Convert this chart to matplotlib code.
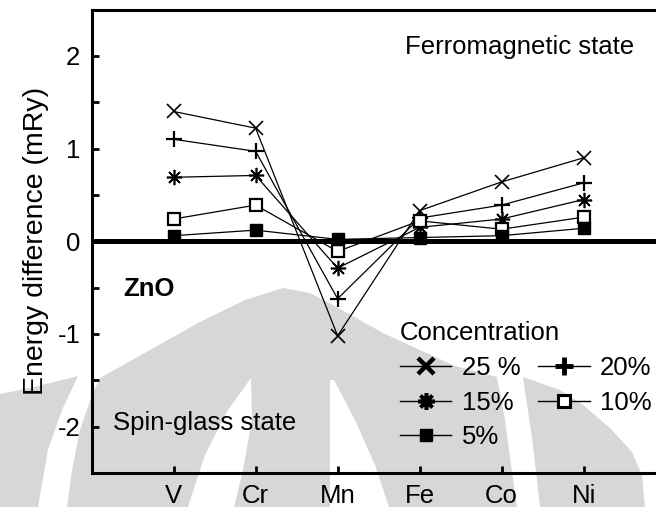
import matplotlib
matplotlib.use("Agg")
import matplotlib.pyplot as plt
from matplotlib.patches import Polygon
from matplotlib.lines import Line2D

plt.rcParams['font.family'] = ['Liberation Sans', 'DejaVu Sans']
plt.rcParams['axes.unicode_minus'] = False

# Dopant elements along the x axis
elements = ["V", "Cr", "Mn", "Fe", "Co", "Ni"]
positions = [1, 2, 3, 4, 5, 6]

# Energy difference (mRy) for each impurity concentration
conc_25 = [1.40, 1.22, -1.02, 0.33, 0.64, 0.90]
conc_20 = [1.10, 0.97, -0.62, 0.25, 0.39, 0.63]
conc_15 = [0.69, 0.71, -0.29, 0.15, 0.24, 0.45]
conc_10 = [0.24, 0.39, -0.11, 0.22, 0.13, 0.26]
conc_5 = [0.06, 0.12, 0.02, 0.04, 0.06, 0.14]

labels = ["25 %", "20%", "15%", "10%", "5%"]
y_ticks = [-2, -1, 0, 1, 2]

W, H = 656, 507
fig = plt.figure(figsize=(W / 100, H / 100), dpi=100)


def px(points):
    return [(x / W, 1 - y / H) for x, y in points]


# faint background emblem
grey = '#d7d7d7'
emblem_grey = [
    [(67, 507), (72, 470), (80, 430), (92, 395), (100, 378), (150, 350), (200, 322),
     (245, 300), (283, 288), (310, 293), (333, 305), (383, 333), (420, 350),
     (455, 366), (497, 377), (505, 420), (511, 465), (517, 507)],
    [(0, 507), (0, 394), (30, 388), (78, 376), (62, 410), (48, 450), (38, 507)],
    [(523, 377), (560, 390), (583, 405), (610, 428), (632, 452), (642, 475),
     (645, 507), (540, 507), (533, 445)],
]
emblem_white = [
    [(188, 507), (205, 455), (228, 410), (251, 378), (252, 420), (243, 470), (234, 507)],
    [(330, 380), (334, 380), (355, 420), (375, 465), (389, 507), (330, 507)],
]
for pts in emblem_grey:
    fig.patches.append(Polygon(px(pts), closed=True, transform=fig.transFigure,
                               facecolor=grey, edgecolor='none', zorder=-2))
for pts in emblem_white:
    fig.patches.append(Polygon(px(pts), closed=True, transform=fig.transFigure,
                               facecolor='white', edgecolor='none', zorder=-1))

ax = fig.add_axes([91.6 / W, 1 - 473 / H, 574 / W, 463.5 / H])
ax.set_facecolor('none')

ast = (8, 2, 0)
styles = [
    (conc_25, dict(marker='x', ms=10, mew=1.2, mfc='none')),
    (conc_20, dict(marker='+', ms=11, mew=1.6, mfc='none')),
    (conc_15, dict(marker=ast, ms=11, mew=1.2, mfc='none')),
    (conc_10, dict(marker='s', ms=8, mew=1.6, mfc='white')),
    (conc_5, dict(marker='s', ms=8, mew=1.0, mfc='black')),
]
for vals, st in styles:
    ax.plot(positions, vals, color='black', lw=0.9, mec='black', zorder=3, **st)

ax.axhline(0, color='black', lw=3.6, zorder=2)

ax.set_xlim(0, 7)
ax.set_ylim(-2.5, 2.5)
ax.set_xticks(positions)
ax.set_xticklabels(elements)
ax.set_yticks(y_ticks)
ax.set_yticks([-1.5, -0.5, 0.5, 1.5], minor=True)
ax.tick_params(axis='both', which='both', direction='in', width=2, length=5,
               labelsize=18.5, pad=8)
ax.tick_params(axis='x', which='both', top=False)
ax.tick_params(axis='y', which='both', right=False)

for side in ['left', 'bottom', 'top']:
    ax.spines[side].set_linewidth(2.2)
ax.spines['right'].set_visible(False)

ax.set_ylabel('Energy difference (mRy)', fontsize=20.5, labelpad=6)

ax.text(3.82, 2.1, 'Ferromagnetic state', fontsize=18.5, ha='left', va='center')
ax.text(0.38, -0.51, 'ZnO', fontsize=18.5, fontweight='bold', ha='left', va='center')
ax.text(0.26, -1.96, 'Spin-glass state', fontsize=18.5, ha='left', va='center')

# legend with heavier symbols
leg_styles = [
    dict(marker='x', ms=11, mew=3.2, mfc='none'),
    dict(marker='+', ms=13, mew=3.5, mfc='none'),
    dict(marker=ast, ms=12, mew=2.6, mfc='none'),
    dict(marker='s', ms=9, mew=2.2, mfc='white'),
    dict(marker='s', ms=9, mew=1.0, mfc='black'),
]
handles = [Line2D([], [], color='black', lw=1.0, mec='black', **s) for s in leg_styles]
order = [0, 2, 4, 1, 3]
leg = ax.legend([handles[i] for i in order], [labels[i] for i in order],
                ncol=2, title='Concentration', alignment='left',
                loc='upper left', bbox_to_anchor=(400 / W, 1 - 321 / H),
                bbox_transform=fig.transFigure, frameon=False, fontsize=18.5,
                title_fontsize=18.5, borderpad=0, handlelength=2.0,
                handletextpad=0.4, columnspacing=0.7, labelspacing=0.42,
                borderaxespad=0)

fig.savefig('out.png', dpi=100)
